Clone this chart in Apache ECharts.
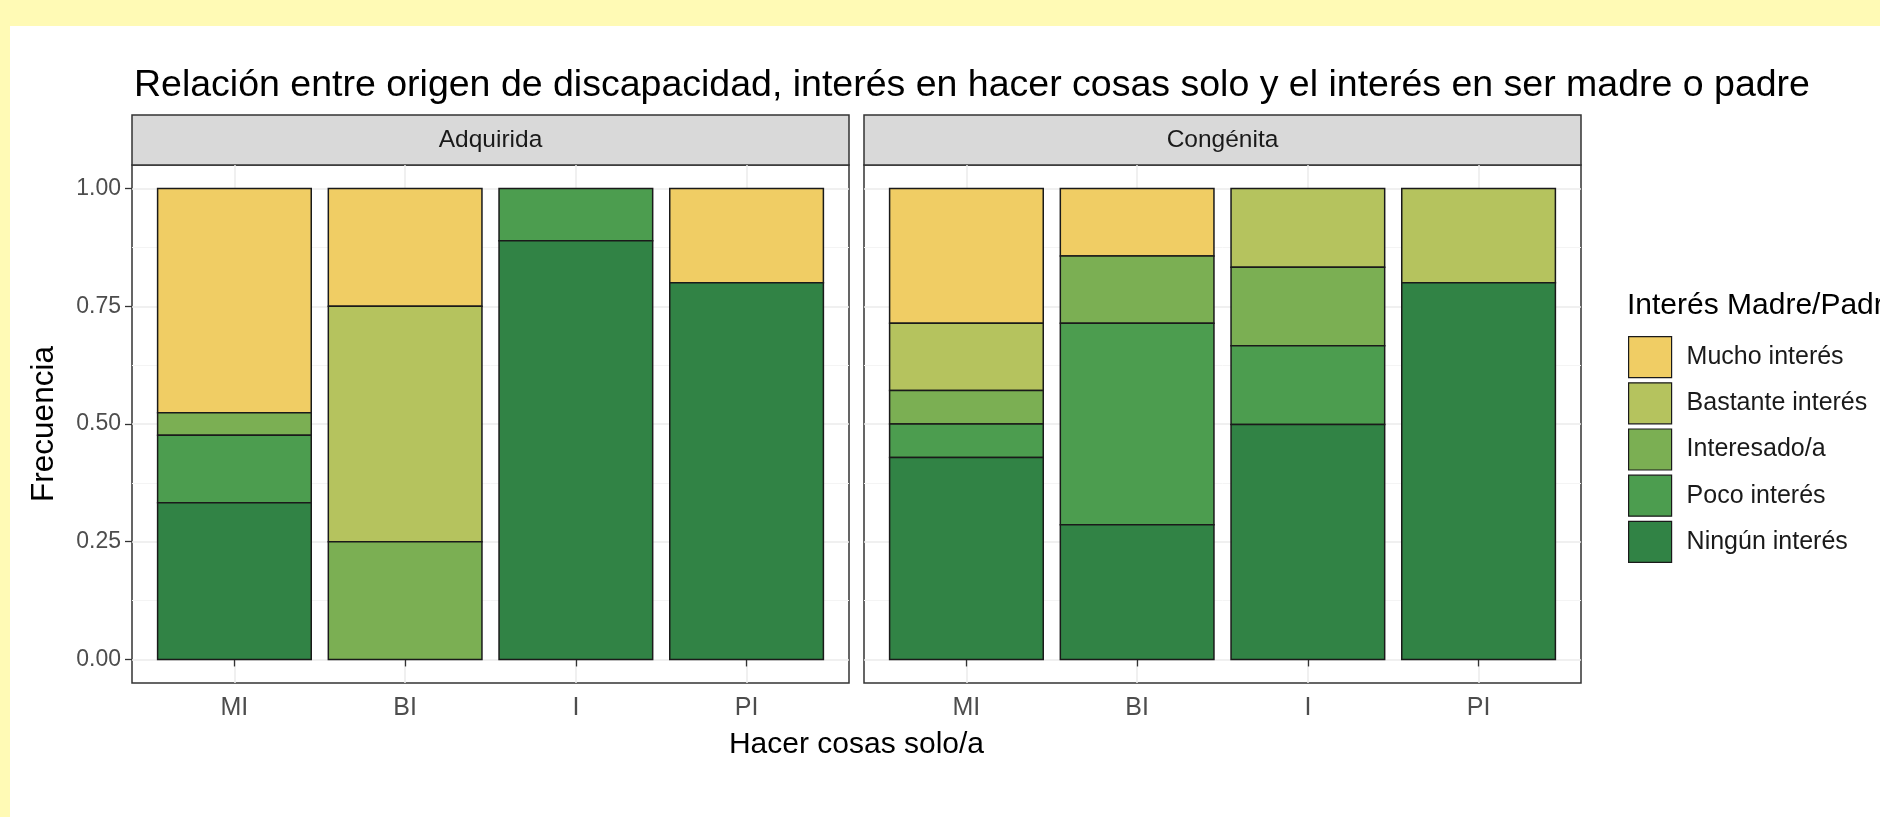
<!DOCTYPE html>
<html><head><meta charset="utf-8">
<script src="https://cdn.jsdelivr.net/npm/echarts@6/dist/echarts.min.js"></script>
<style>
html,body{margin:0;padding:0;background:#FFFAB5;overflow:hidden;}
#bg{position:absolute;left:10px;top:26px;width:1870px;height:791px;background:#ffffff;}
#c{position:absolute;left:0;top:0;width:1880px;height:817px;}
</style>
</head><body><div id="bg"></div><div id="c"></div>
<script>
// ---------- data ----------
const categories = ['MI', 'BI', 'I', 'PI'];
const panels = ['Adquirida', 'Congénita'];
const levels = ['Mucho interés', 'Bastante interés', 'Interesado/a', 'Poco interés', 'Ningún interés'];
const yTicks = [0, 0.25, 0.5, 0.75, 1];
const yMinor = [0.125, 0.375, 0.625, 0.875];

// proportions per category (MI, BI, I, PI)
const adquiridaMucho      = [0.476, 0.25, 0,     0.2];
const adquiridaBastante   = [0,     0.5,  0,     0];
const adquiridaInteresado = [0.048, 0.25, 0,     0];
const adquiridaPoco       = [0.143, 0,    0.111, 0];
const adquiridaNingun     = [0.333, 0,    0.889, 0.8];

const congenitaMucho      = [0.286, 0.143, 0,     0];
const congenitaBastante   = [0.143, 0,     0.167, 0.2];
const congenitaInteresado = [0.071, 0.143, 0.167, 0];
const congenitaPoco       = [0.071, 0.428, 0.167, 0];
const congenitaNingun     = [0.429, 0.286, 0.499, 0.8];

const levelColors = ['#F0CD64', '#B5C35E', '#7BAF53', '#4C9D4F', '#318345'];

// ---------- layout ----------
const FONT = "'Liberation Sans', Arial, sans-serif";
const grids = [
  {left: 132, top: 165, width: 717, height: 518},
  {left: 864, top: 165, width: 717, height: 518}
];
const STRIP_TOP = 115, STRIP_H = 50;

const panelData = [
  [adquiridaMucho, adquiridaBastante, adquiridaInteresado, adquiridaPoco, adquiridaNingun],
  [congenitaMucho, congenitaBastante, congenitaInteresado, congenitaPoco, congenitaNingun]
];

function renderItem(params, api) {
  const v = api.value(3);
  if (!v) return null;
  const x = api.value(0);
  const p0 = api.coord([x - 0.45, api.value(2)]);
  const p1 = api.coord([x + 0.45, api.value(1)]);
  return {
    type: 'rect',
    shape: {x: p0[0], y: p0[1], width: p1[0] - p0[0], height: p1[1] - p0[1]},
    style: {fill: api.visual('color'), stroke: '#1a1a1a', lineWidth: 1.5}
  };
}

const series = [];
panelData.forEach((arrs, p) => {
  const cum = categories.map(() => 0);
  const built = [];
  for (let l = levels.length - 1; l >= 0; l--) {
    built[l] = arrs[l].map((v, i) => {
      const item = [i + 1, cum[i], cum[i] + v, v];
      cum[i] += v;
      return item;
    });
  }
  levels.forEach((name, l) => {
    series.push({
      type: 'custom',
      name: name,
      xAxisIndex: p,
      yAxisIndex: p * 2,
      renderItem: renderItem,
      itemStyle: {color: levelColors[l]},
      encode: {x: 0, y: [1, 2]},
      data: built[l],
      silent: true
    });
  });
});

const xAxes = grids.map((g, i) => ({
  type: 'value', gridIndex: i, min: 0.4, max: 4.6,
  axisLine: {show: false},
  axisTick: {show: true, customValues: [1, 2, 3, 4], length: 7, lineStyle: {color: '#333333', width: 1.3}},
  axisLabel: {customValues: [1, 2, 3, 4], formatter: v => categories[Math.round(v) - 1],
    fontSize: 25, color: '#4D4D4D', margin: 13, fontFamily: FONT},
  splitLine: {show: true, lineStyle: {color: '#EBEBEB', width: 1.5}}
}));

const yAxes = [];
grids.forEach((g, i) => {
  yAxes.push({
    type: 'value', gridIndex: i, min: -0.05, max: 1.05,
    axisLine: {show: false},
    axisTick: {show: i === 0, customValues: yTicks, length: 7, lineStyle: {color: '#333333', width: 1.3}},
    axisLabel: {show: i === 0, customValues: yTicks, formatter: v => v.toFixed(2),
      fontSize: 23, color: '#4D4D4D', margin: 11, fontFamily: FONT},
    splitLine: {show: true, lineStyle: {color: '#EBEBEB', width: 1.5}}
  });
  yAxes.push({
    type: 'value', gridIndex: i, min: -0.05, max: 1.05, position: 'left',
    axisLine: {show: false},
    axisTick: {show: false, customValues: yMinor},
    axisLabel: {show: false, customValues: yMinor},
    splitLine: {show: true, lineStyle: {color: '#F4F4F4', width: 1}}
  });
});

const graphics = [];
grids.forEach((g, i) => {
  graphics.push({
    type: 'rect', shape: {x: g.left, y: STRIP_TOP, width: g.width, height: STRIP_H},
    style: {fill: '#D9D9D9', stroke: '#333333', lineWidth: 1.5}
  });
  graphics.push({
    type: 'text', x: g.left + g.width / 2, y: STRIP_TOP + STRIP_H / 2,
    style: {text: panels[i], fill: '#1A1A1A', font: '24.5px ' + FONT, textAlign: 'center', textVerticalAlign: 'middle'}
  });
});
graphics.push({
  type: 'text', x: (grids[0].left + grids[1].left + grids[1].width) / 2, y: 745,
  style: {text: 'Hacer cosas solo/a', fill: '#000', font: '30px ' + FONT, textAlign: 'center', textVerticalAlign: 'middle'}
});
graphics.push({
  type: 'text', x: 44, y: grids[0].top + grids[0].height / 2, rotation: Math.PI / 2,
  style: {text: 'Frecuencia', fill: '#000', font: '31.5px ' + FONT, textAlign: 'center', textVerticalAlign: 'middle'}
});
graphics.push({
  type: 'text', x: 1627, y: 306,
  style: {text: 'Interés Madre/Padre', fill: '#000', font: '30px ' + FONT, textAlign: 'left', textVerticalAlign: 'middle'}
});

const chart = echarts.init(document.getElementById('c'), null, {renderer: 'canvas'});
chart.setOption({
  animation: false,
  backgroundColor: 'transparent',
  textStyle: {fontFamily: FONT},
  title: {
    text: 'Relación entre origen de discapacidad, interés en hacer cosas solo y el interés en ser madre o padre',
    left: 134, top: 67, padding: 0,
    textStyle: {fontSize: 37.5, fontWeight: 'normal', color: '#000', fontFamily: FONT}
  },
  legend: {
    orient: 'vertical', left: 1628, top: 336, padding: 0,
    itemWidth: 43, itemHeight: 41, itemGap: 4, icon: 'rect',
    data: levels, selectedMode: false,
    itemStyle: {borderColor: '#1a1a1a', borderWidth: 1.2},
    textStyle: {fontSize: 25, color: '#1A1A1A', fontFamily: FONT, padding: [0, 0, 0, 10]}
  },
  grid: grids.map(g => Object.assign({show: true, borderColor: '#333333', borderWidth: 1.5, backgroundColor: 'transparent', containLabel: false}, g)),
  xAxis: xAxes,
  yAxis: yAxes,
  graphic: {elements: graphics},
  series: series
});
</script>
</body></html>
